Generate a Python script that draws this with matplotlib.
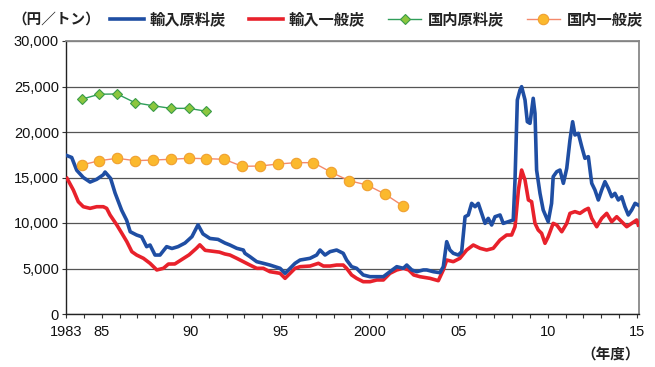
import matplotlib
matplotlib.use("Agg")
import matplotlib.pyplot as plt
import numpy as np

plt.rcParams['font.family'] = ['Noto Sans CJK JP', 'DejaVu Sans']

# ---- data ----
blue_years = [1983.06, 1983.32, 1983.60, 1983.97, 1984.35, 1984.72, 1985.09, 1985.19, 1985.50, 1985.75,
              1986.12, 1986.40, 1986.60, 1986.96, 1987.24, 1987.52, 1987.71, 1987.99, 1988.27, 1988.64,
              1988.94, 1989.28, 1989.67, 1990.06, 1990.40, 1990.68, 1991.07, 1991.52, 1991.91, 1992.19,
              1992.57, 1992.94, 1993.03, 1993.31, 1993.69, 1994.06, 1994.43, 1995.00, 1995.28, 1995.56,
              1995.84, 1996.12, 1996.68, 1997.05, 1997.24, 1997.52, 1997.80, 1998.17, 1998.54, 1998.73,
              1999.01, 1999.29, 1999.66, 2000.04, 2000.42, 2000.79, 2001.16, 2001.54, 2001.91, 2002.10,
              2002.38, 2002.66, 2003.03, 2003.22, 2003.59, 2003.96, 2004.15, 2004.34, 2004.52, 2004.71,
              2004.99, 2005.18, 2005.37, 2005.55, 2005.74, 2005.93, 2006.11, 2006.30, 2006.49, 2006.67,
              2006.86, 2007.05, 2007.33, 2007.51, 2007.79, 2008.07, 2008.17, 2008.30, 2008.45, 2008.54,
              2008.73, 2008.86, 2009.01, 2009.19, 2009.29, 2009.38, 2009.57, 2009.75, 2010.03, 2010.22,
              2010.31, 2010.51, 2010.69, 2010.88, 2011.07, 2011.25, 2011.40, 2011.53, 2011.72, 2011.91,
              2012.09, 2012.28, 2012.47, 2012.65, 2012.84, 2013.03, 2013.21, 2013.40, 2013.59, 2013.77,
              2013.96, 2014.15, 2014.33, 2014.52, 2014.71, 2014.90, 2015.08]
blue_values = [17400, 17200, 15800, 15000, 14500, 14800, 15300, 15600, 14900, 13300,
               11400, 10300, 9040, 8680, 8490, 7400, 7580, 6480, 6480, 7400,
               7200, 7400, 7800, 8500, 9800, 8800, 8300, 8200, 7800, 7580,
               7220, 7030, 6670, 6300, 5750, 5570, 5380, 5020, 4470, 5020,
               5570, 5930, 6120, 6480, 7030, 6480, 6850, 7030, 6670, 5930,
               5200, 5020, 4290, 4100, 4100, 4100, 4650, 5200, 5020, 5380,
               4840, 4650, 4840, 4840, 4650, 4540, 5200, 7950, 7030, 6670,
               6480, 6850, 10690, 10880, 12160, 11790, 12160, 11060, 9960, 10510,
               9780, 10690, 10880, 9960, 10140, 10330, 14720, 23520, 24620, 24980,
               23520, 21130, 20950, 23700, 22050, 15820, 13260, 11430, 10140, 12160,
               15090, 15640, 15820, 14360, 16010, 19120, 21130, 19670, 19850, 18390,
               17110, 17290, 14360, 13630, 12530, 13630, 14540, 13810, 12890, 13260,
               12530, 12890, 11790, 10880, 11430, 12160, 11970]

red_years = [1983.06, 1983.41, 1983.69, 1983.97, 1984.35, 1984.72, 1985.09, 1985.28, 1985.47, 1985.85,
             1986.13, 1986.41, 1986.69, 1986.96, 1987.34, 1987.71, 1988.09, 1988.46, 1988.74, 1989.10,
             1989.50, 1989.90, 1990.30, 1990.50, 1990.80, 1991.20, 1991.60, 1991.90, 1992.19, 1992.57,
             1992.94, 1993.31, 1993.69, 1994.06, 1994.43, 1995.00, 1995.28, 1995.56, 1995.84, 1996.12,
             1996.68, 1997.15, 1997.43, 1997.80, 1998.17, 1998.54, 1998.73, 1999.01, 1999.29, 1999.66,
             2000.04, 2000.42, 2000.79, 2001.16, 2001.54, 2001.91, 2002.21, 2002.49, 2002.84, 2003.40,
             2003.87, 2004.15, 2004.34, 2004.71, 2005.08, 2005.46, 2005.83, 2006.21, 2006.58, 2006.95,
             2007.33, 2007.70, 2007.98, 2008.17, 2008.36, 2008.54, 2008.73, 2008.92, 2009.10, 2009.29,
             2009.47, 2009.66, 2009.85, 2010.03, 2010.31, 2010.51, 2010.79, 2011.07, 2011.25, 2011.53,
             2011.81, 2012.09, 2012.28, 2012.47, 2012.75, 2013.03, 2013.31, 2013.59, 2013.87, 2014.15,
             2014.43, 2014.71, 2014.99, 2015.08]
red_values = [14900, 13630, 12340, 11790, 11610, 11790, 11790, 11610, 10880, 9780,
              8870, 7950, 6850, 6480, 6120, 5570, 4840, 5020, 5490, 5500,
              6000, 6500, 7200, 7600, 7000, 6900, 6800, 6600, 6480, 6120,
              5750, 5380, 5020, 5020, 4650, 4470, 3920, 4470, 5020, 5200,
              5270, 5570, 5270, 5270, 5380, 5380, 5020, 4290, 3920, 3550,
              3550, 3740, 3740, 4470, 4840, 5020, 4840, 4290, 4100, 3920,
              3660, 4840, 5930, 5750, 6120, 7030, 7580, 7220, 7030, 7220,
              8130, 8680, 8680, 9590, 13630, 15820, 14720, 12530, 12340, 9960,
              9230, 8870, 7770, 8490, 9960, 9780, 9040, 9960, 11060, 11250,
              11060, 11430, 11610, 10510, 9590, 10510, 11060, 10140, 10690, 10140,
              9590, 9960, 10330, 9780]

green_years = [1983, 1984, 1985, 1986, 1987, 1988, 1989, 1990]
green_values = [23600, 24150, 24180, 23220, 22890, 22600, 22600, 22280]

orange_years = list(range(1983, 2002))
orange_values = [16370, 16850, 17110, 16850, 16920, 17000, 17110, 17070, 17000, 16230,
                 16260, 16480, 16630, 16630, 15570, 14650, 14180, 13190, 11900]

xtick_pos = [1983, 1985, 1990, 1995, 2000, 2005, 2010, 2015]
xtick_labels = ['1983', '85', '90', '95', '2000', '05', '10', '15']
ytick_vals = [0, 5000, 10000, 15000, 20000, 25000, 30000]

series_names = ['輸入原料炭', '輸入一般炭', '国内原料炭', '国内一般炭']

# ---- figure ----
fig = plt.figure(figsize=(6.55, 3.67), dpi=100)
ax = fig.add_axes([66/655, 1-314/367, (639-66)/655, (314-41)/367])

year_offset = 0.87  # annual points plotted late in the fiscal year

ax.plot(blue_years, blue_values, color='#1f4ea3', lw=2.6, solid_joinstyle='round', zorder=4,
        label=series_names[0])
ax.plot(red_years, red_values, color='#e8212b', lw=2.6, solid_joinstyle='round', zorder=3,
        label=series_names[1])
ax.plot(np.array(green_years) + year_offset, green_values, color='#2f9e5a', lw=1.0,
        marker='D', ms=5.5, mfc='#8cc63e', mec='#3a9c48', mew=0.8, zorder=5, label=series_names[2])
ax.plot(np.array(orange_years) + year_offset, orange_values, color='#f4896b', lw=1.0,
        marker='o', ms=7.5, mfc='#fbb92d', mec='#f0a030', mew=0.8, zorder=5, label=series_names[3])

ax.set_xlim(1983, 2015.12)
ax.set_ylim(0, 30000)
ax.set_yticks(ytick_vals)
ax.set_yticklabels([f'{v:,}' for v in ytick_vals], family=['Liberation Sans'], fontsize=10.5,
                   color='#111111')
ax.set_xticks(xtick_pos)
ax.set_xticklabels(xtick_labels, family=['Liberation Sans'], fontsize=10.5, color='#111111')
ax.set_xticks(range(1983, 2016), minor=True)
ax.tick_params(axis='x', which='both', direction='out', length=3, width=0.8, color='#333333', pad=5)
ax.tick_params(axis='y', direction='out', length=3, width=0.8, color='#333333', pad=2)

ax.grid(axis='y', color='#555555', lw=0.9)
ax.set_axisbelow(True)
for s in ['left', 'bottom']:
    ax.spines[s].set_color('#222222')
    ax.spines[s].set_linewidth(1.0)
for s in ['top', 'right']:
    ax.spines[s].set_color('#888888')
    ax.spines[s].set_linewidth(1.3)

fig.text(12/655, 1-19/367, '（円／トン）', fontsize=10.5, fontweight='bold', va='center', ha='left',
         color='#222222')
fig.text(640/655, 1-354/367, '（年度）', fontsize=10.5, fontweight='bold', va='center', ha='right',
         color='#222222')

leg = fig.legend(loc='center left', bbox_to_anchor=(110/655, 1-19/367), ncol=4, frameon=False,
                 prop={'size': 11, 'weight': 'bold'}, handlelength=2.2, columnspacing=1.5,
                 handletextpad=0.4, borderaxespad=0, borderpad=0)
for t in leg.get_texts():
    t.set_color('#222222')

fig.savefig('out.png', dpi=100)
